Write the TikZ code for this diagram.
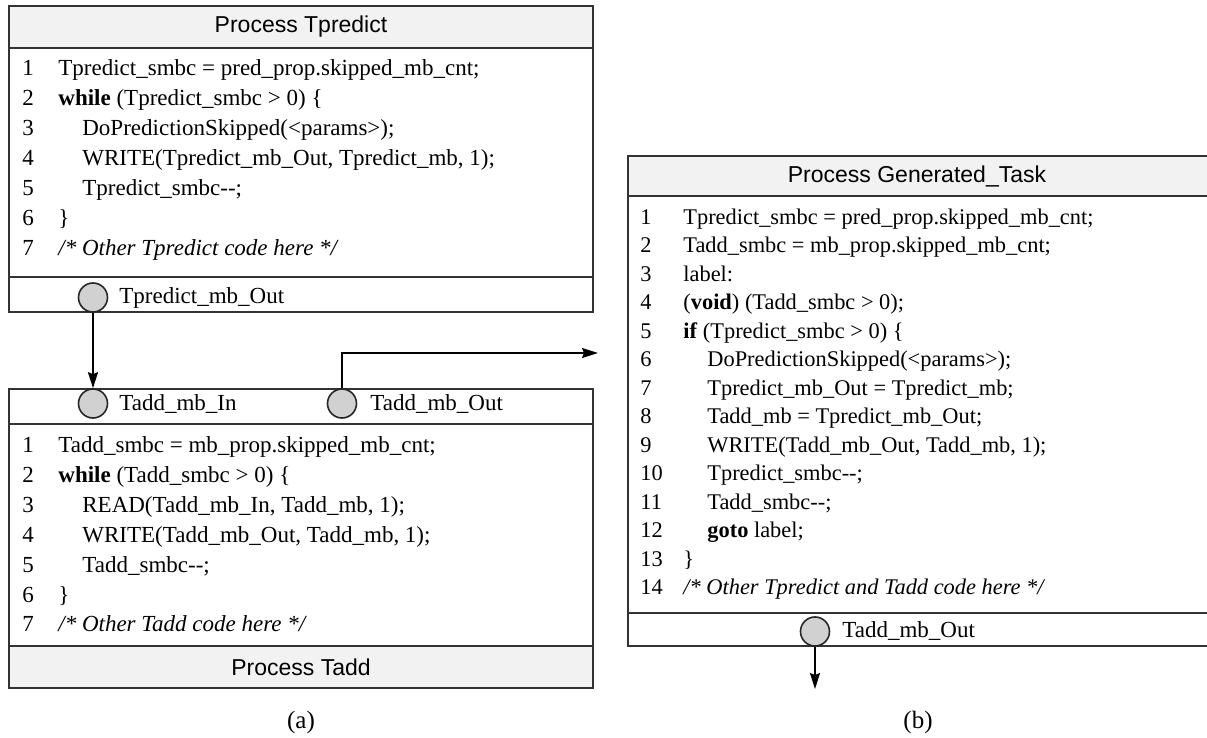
\documentclass[tikz,border=0pt]{standalone}
\usepackage{fontspec}
\setmainfont{Liberation Serif}
\newfontfamily\titlefont{Liberation Sans}
\usetikzlibrary{arrows.meta}

% line number column and indentation
\newcommand{\lnum}[2][18pt]{\makebox[#1][l]{#2}}
\newcommand{\ind}{\hspace*{12pt}}
\newcommand{\decr}{-\kern0pt-}

\begin{document}
\begin{tikzpicture}[x=0.5pt, y=-0.5pt,
  >={Stealth[length=8pt, width=5pt, inset=1pt]},
  every node/.style={font=\fontsize{11.5}{13}\selectfont, inner sep=0pt},
  codeline/.style={anchor=base west, yshift=-3.6pt},
  rcodeline/.style={codeline, font=\fontsize{11.2}{13}\selectfont},
  boxline/.style={draw=black!80, line width=1pt},
  band/.style={fill=black!5},
  port/.style={circle, draw=black!85, line width=0.8pt, fill=black!18,
               minimum size=14.5pt, inner sep=0pt},
  portlabel/.style={anchor=base west, yshift=-3.6pt},
  boxtitle/.style={font=\titlefont\fontsize{11.5}{13}\selectfont},
  flow/.style={->, draw=black, line width=1pt}]

\useasboundingbox (0,0) rectangle (1207,738);

% =========================================================
% (a) two separate processes
% =========================================================

% --- Process Tpredict ---
\fill[band] (9,6) rectangle (593,48);
\draw[boxline] (9,6) rectangle (593,312);
\draw[boxline] (9,48) -- (593,48);
\draw[boxline] (9,277) -- (593,277);
\node[boxtitle] (tpTitle) at (301,27) {Process Tpredict};

\node[codeline] (tp1) at (22,68)  {\lnum{1}Tpredict\_smbc = pred\_prop.skipped\_mb\_cnt;};
\node[codeline] (tp2) at (22,98)  {\lnum{2}\textbf{while} (Tpredict\_smbc > 0) \{};
\node[codeline] (tp3) at (22,128) {\lnum{3}\ind DoPredictionSkipped(<params>);};
\node[codeline] (tp4) at (22,158) {\lnum{4}\ind WRITE(Tpredict\_mb\_Out, Tpredict\_mb, 1);};
\node[codeline] (tp5) at (22,188) {\lnum{5}\ind Tpredict\_smbc\decr;};
\node[codeline] (tp6) at (22,218) {\lnum{6}\}};
\node[codeline] (tp7) at (22,248) {\lnum{7}\textit{/* Other Tpredict code here */}};

\node[port] (predOut) at (93,297.5) {};
\node[portlabel] (predOutLbl) at (119,296) {Tpredict\_mb\_Out};

% --- Process Tadd ---
\fill[band] (9,646) rectangle (593,688);
\draw[boxline] (9,389) rectangle (593,688);
\draw[boxline] (9,424) -- (593,424);
\draw[boxline] (9,646) -- (593,646);
\node[boxtitle] (taTitle) at (301,667) {Process Tadd};

\node[port] (addIn)  at (93,403.5) {};
\node[port] (addOut) at (342,403.5) {};
\node[portlabel] (addInLbl)  at (119,403) {Tadd\_mb\_In};
\node[portlabel] (addOutLbl) at (370,403) {Tadd\_mb\_Out};

\node[codeline] (ta1) at (22,445) {\lnum{1}Tadd\_smbc = mb\_prop.skipped\_mb\_cnt;};
\node[codeline] (ta2) at (22,475) {\lnum{2}\textbf{while} (Tadd\_smbc > 0) \{};
\node[codeline] (ta3) at (22,505) {\lnum{3}\ind READ(Tadd\_mb\_In, Tadd\_mb, 1);};
\node[codeline] (ta4) at (22,535) {\lnum{4}\ind WRITE(Tadd\_mb\_Out, Tadd\_mb, 1);};
\node[codeline] (ta5) at (22,565) {\lnum{5}\ind Tadd\_smbc\decr;};
\node[codeline] (ta6) at (22,595) {\lnum{6}\}};
\node[codeline] (ta7) at (22,624) {\lnum{7}\textit{/* Other Tadd code here */}};

% channels
\coordinate (addOutEnd) at (598,353);
\draw[flow] (predOut.south) -- (addIn.north);
\draw[flow, line width=0.8pt] (addOut.north) |- (addOutEnd);

\node (capA) at (301,722) {\fontsize{12.5}{14}\selectfont (a)};

% =========================================================
% (b) merged process
% =========================================================
\fill[band] (628,156) rectangle (1212,196);
\draw[boxline] (628,156) rectangle (1212,646);
\draw[boxline] (628,196) -- (1212,196);
\draw[boxline] (628,613) -- (1212,613);
\node[boxtitle] (gtTitle) at (917,176) {Process Generated\_Task};

\node[rcodeline] (gt1)  at (640,217)   {\lnum[21.5pt]{1}Tpredict\_smbc = pred\_prop.skipped\_mb\_cnt;};
\node[rcodeline] (gt2)  at (640,245.5) {\lnum[21.5pt]{2}Tadd\_smbc = mb\_prop.skipped\_mb\_cnt;};
\node[rcodeline] (gt3)  at (640,274)   {\lnum[21.5pt]{3}label:};
\node[rcodeline] (gt4)  at (640,302.5) {\lnum[21.5pt]{4}(\textbf{void}) (Tadd\_smbc > 0);};
\node[rcodeline] (gt5)  at (640,331)   {\lnum[21.5pt]{5}\textbf{if} (Tpredict\_smbc > 0) \{};
\node[rcodeline] (gt6)  at (640,359.5) {\lnum[21.5pt]{6}\ind DoPredictionSkipped(<params>);};
\node[rcodeline] (gt7)  at (640,388)   {\lnum[21.5pt]{7}\ind Tpredict\_mb\_Out = Tpredict\_mb;};
\node[rcodeline] (gt8)  at (640,416.5) {\lnum[21.5pt]{8}\ind Tadd\_mb = Tpredict\_mb\_Out;};
\node[rcodeline] (gt9)  at (640,445)   {\lnum[21.5pt]{9}\ind WRITE(Tadd\_mb\_Out, Tadd\_mb, 1);};
\node[rcodeline] (gt10) at (640,473.5) {\lnum[21.5pt]{10}\ind Tpredict\_smbc\decr;};
\node[rcodeline] (gt11) at (640,502)   {\lnum[21.5pt]{11}\ind Tadd\_smbc\decr;};
\node[rcodeline] (gt12) at (640,530.5) {\lnum[21.5pt]{12}\ind \textbf{goto} label;};
\node[rcodeline] (gt13) at (640,559)   {\lnum[21.5pt]{13}\}};
\node[rcodeline] (gt14) at (640,587.5) {\lnum[21.5pt]{14}\textit{/* Other Tpredict and Tadd code here */}};

\node[port] (genOut) at (815,631.5) {};
\node[portlabel] (genOutLbl) at (842,630) {Tadd\_mb\_Out};

\coordinate (genOutEnd) at (815,689);
\draw[flow, line width=0.8pt] (genOut.south) -- (genOutEnd);

\node (capB) at (918,722) {\fontsize{12.5}{14}\selectfont (b)};

\end{tikzpicture}
\end{document}
